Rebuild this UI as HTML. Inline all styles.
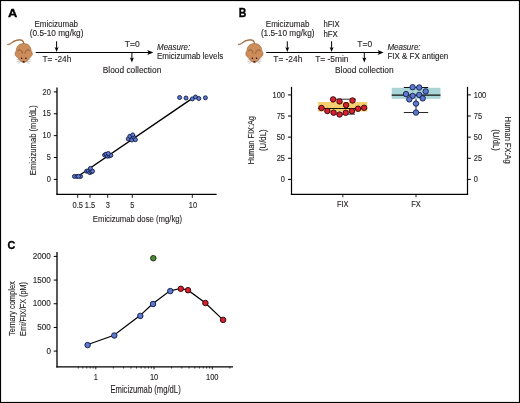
<!DOCTYPE html>
<html><head><meta charset="utf-8"><style>
html,body{margin:0;padding:0;background:#fff;}
svg{display:block;font-family:"Liberation Sans", sans-serif;will-change:transform;} text{stroke:#231f20;stroke-width:0.12px;}
</style></head><body>
<svg width="520" height="403" viewBox="0 0 520 403">
<rect x="0" y="0" width="520" height="403" fill="none" stroke="#000" stroke-width="2.2"/>
<g transform="translate(0,0)">
<path d="M7.9,44.5 C10.5,44.8 12.4,41.6 15.4,40.6 C18.4,39.6 21.2,39.4 22.8,41 C23.5,41.8 23.8,42.8 23.9,44" fill="none" stroke="#8a5a34" stroke-width="1.15" stroke-linecap="round"/>
<path d="M7.9,44.5 C10.5,44.8 12.4,41.6 15.4,40.6 C18.4,39.6 21.2,39.4 22.8,41 C23.5,41.8 23.8,42.8 23.9,44" fill="none" stroke="#cf915c" stroke-width="0.45" stroke-linecap="round"/>
<path d="M8.3,44.2 L7.4,45.3 L9.2,44.9 Z" fill="#a87448"/>
<path d="M21.2,60.6 L17.2,59.4 M21.2,61 L17,61.6 M21.4,61.4 L18.2,63.4 M26.2,60.6 L30.2,59.4 M26.2,61 L30.4,61.6 M26,61.4 L29.2,63.4" stroke="#a8a8a8" stroke-width="0.7" stroke-linecap="round"/>
<path d="M21.2,60.6 L17.2,59.4 M21.2,61 L17,61.6 M21.4,61.4 L18.2,63.4 M26.2,60.6 L30.2,59.4 M26.2,61 L30.4,61.6 M26,61.4 L29.2,63.4" stroke="#f4f4f4" stroke-width="0.3" stroke-linecap="round"/>
<path d="M23.7,43.5 C28.7,43.5 31.1,47 31.1,50.8 C32.8,52.4 32.8,55.9 30.3,57.1 C28.3,59.6 26,62.6 23.7,62.7 C21.4,62.6 19.1,59.6 17.1,57.1 C14.6,55.9 14.6,52.4 16.3,50.8 C16.3,47 18.7,43.5 23.7,43.5 Z" fill="#cd8d5a" stroke="#8f5c35" stroke-width="0.55"/>
<path d="M17.4,51 C19.6,49 21.9,49.8 22.5,53.6 M30,51 C27.8,49 25.5,49.8 24.9,53.6" fill="none" stroke="#6e4222" stroke-width="0.65"/>
<circle cx="21.6" cy="58.2" r="0.8" fill="#1a0c06"/><circle cx="25.9" cy="58.2" r="0.8" fill="#1a0c06"/>
<ellipse cx="23.7" cy="61.8" rx="1.15" ry="0.75" fill="#2e1608"/>
</g>
<g transform="translate(230.7,0)">
<path d="M7.9,44.5 C10.5,44.8 12.4,41.6 15.4,40.6 C18.4,39.6 21.2,39.4 22.8,41 C23.5,41.8 23.8,42.8 23.9,44" fill="none" stroke="#8a5a34" stroke-width="1.15" stroke-linecap="round"/>
<path d="M7.9,44.5 C10.5,44.8 12.4,41.6 15.4,40.6 C18.4,39.6 21.2,39.4 22.8,41 C23.5,41.8 23.8,42.8 23.9,44" fill="none" stroke="#cf915c" stroke-width="0.45" stroke-linecap="round"/>
<path d="M8.3,44.2 L7.4,45.3 L9.2,44.9 Z" fill="#a87448"/>
<path d="M21.2,60.6 L17.2,59.4 M21.2,61 L17,61.6 M21.4,61.4 L18.2,63.4 M26.2,60.6 L30.2,59.4 M26.2,61 L30.4,61.6 M26,61.4 L29.2,63.4" stroke="#a8a8a8" stroke-width="0.7" stroke-linecap="round"/>
<path d="M21.2,60.6 L17.2,59.4 M21.2,61 L17,61.6 M21.4,61.4 L18.2,63.4 M26.2,60.6 L30.2,59.4 M26.2,61 L30.4,61.6 M26,61.4 L29.2,63.4" stroke="#f4f4f4" stroke-width="0.3" stroke-linecap="round"/>
<path d="M23.7,43.5 C28.7,43.5 31.1,47 31.1,50.8 C32.8,52.4 32.8,55.9 30.3,57.1 C28.3,59.6 26,62.6 23.7,62.7 C21.4,62.6 19.1,59.6 17.1,57.1 C14.6,55.9 14.6,52.4 16.3,50.8 C16.3,47 18.7,43.5 23.7,43.5 Z" fill="#cd8d5a" stroke="#8f5c35" stroke-width="0.55"/>
<path d="M17.4,51 C19.6,49 21.9,49.8 22.5,53.6 M30,51 C27.8,49 25.5,49.8 24.9,53.6" fill="none" stroke="#6e4222" stroke-width="0.65"/>
<circle cx="21.6" cy="58.2" r="0.8" fill="#1a0c06"/><circle cx="25.9" cy="58.2" r="0.8" fill="#1a0c06"/>
<ellipse cx="23.7" cy="61.8" rx="1.15" ry="0.75" fill="#2e1608"/>
</g>
<text x="8.1" y="16.9" font-size="11.8" font-weight="bold" textLength="9.3" lengthAdjust="spacingAndGlyphs" fill="#000" style="stroke:#000;stroke-width:0.35px">A</text>
<text x="56.3" y="27" font-size="8.6" text-anchor="middle" textLength="43.56" lengthAdjust="spacingAndGlyphs" fill="#231f20">Emicizumab</text>
<text x="56.6" y="36.4" font-size="8.5" text-anchor="middle" textLength="53.62" lengthAdjust="spacingAndGlyphs" fill="#231f20">(0.5-10 mg/kg)</text>
<line x1="56.6" y1="41.3" x2="56.6" y2="49" stroke="#000" stroke-width="1.0"/>
<path d="M54.6,47 L56.6,52 L58.6,47 L56.6,48.2 Z" fill="#000"/>
<line x1="35.7" y1="52.5" x2="149.3" y2="52.5" stroke="#000" stroke-width="1.2"/>
<path d="M147.3,49.9 L153.3,52.5 L147.3,55.1 L148.70000000000002,52.5 Z" fill="#000"/>
<text x="42.4" y="61.7" font-size="8.35" fill="#231f20">T= -24h</text>
<text x="124.8" y="47.1" font-size="8.5" fill="#231f20">T=0</text>
<line x1="131.9" y1="52.3" x2="131.9" y2="59.4" stroke="#000" stroke-width="1.0"/>
<path d="M129.9,57.4 L131.9,62.4 L133.9,57.4 L131.9,58.6 Z" fill="#000"/>
<text x="102.7" y="72.7" font-size="8.5" textLength="58.6" lengthAdjust="spacingAndGlyphs" fill="#231f20">Blood collection</text>
<text x="157" y="50" font-size="8.4" font-style="italic" textLength="33.2" lengthAdjust="spacingAndGlyphs" fill="#231f20">Measure:</text>
<text x="157" y="59.4" font-size="8.5" textLength="66.24" lengthAdjust="spacingAndGlyphs" fill="#231f20">Emicizumab levels</text>
<text x="238.7" y="16.8" font-size="12" font-weight="bold" textLength="7.6" lengthAdjust="spacingAndGlyphs" fill="#000" style="stroke:#000;stroke-width:0.35px">B</text>
<text x="287.6" y="27" font-size="8.6" text-anchor="middle" textLength="43.56" lengthAdjust="spacingAndGlyphs" fill="#231f20">Emicizumab</text>
<text x="287.7" y="36.4" font-size="8.5" text-anchor="middle" textLength="53.62" lengthAdjust="spacingAndGlyphs" fill="#231f20">(1.5-10 mg/kg)</text>
<line x1="287.3" y1="41.3" x2="287.3" y2="49" stroke="#000" stroke-width="1.0"/>
<path d="M285.3,47 L287.3,52 L289.3,47 L287.3,48.2 Z" fill="#000"/>
<text x="323.4" y="26.7" font-size="8.4" textLength="16.2" lengthAdjust="spacingAndGlyphs" fill="#231f20">hFIX</text>
<text x="323.4" y="36.5" font-size="8.4" textLength="14.4" lengthAdjust="spacingAndGlyphs" fill="#231f20">hFX</text>
<line x1="331.6" y1="41.3" x2="331.6" y2="49" stroke="#000" stroke-width="1.0"/>
<path d="M329.6,47 L331.6,52 L333.6,47 L331.6,48.2 Z" fill="#000"/>
<line x1="266.2" y1="52.5" x2="379.6" y2="52.5" stroke="#000" stroke-width="1.2"/>
<path d="M377.6,49.9 L383.6,52.5 L377.6,55.1 L379.0,52.5 Z" fill="#000"/>
<text x="273.3" y="61.7" font-size="8.35" fill="#231f20">T= -24h</text>
<text x="315.2" y="61.7" font-size="8.4" fill="#231f20">T= -5min</text>
<text x="357.3" y="47.1" font-size="8.5" fill="#231f20">T=0</text>
<line x1="364.3" y1="52.3" x2="364.3" y2="59.4" stroke="#000" stroke-width="1.0"/>
<path d="M362.3,57.4 L364.3,62.4 L366.3,57.4 L364.3,58.6 Z" fill="#000"/>
<text x="335" y="72.7" font-size="8.5" textLength="58.6" lengthAdjust="spacingAndGlyphs" fill="#231f20">Blood collection</text>
<text x="387.4" y="50" font-size="8.4" font-style="italic" textLength="33.2" lengthAdjust="spacingAndGlyphs" fill="#231f20">Measure:</text>
<text x="387.4" y="59.4" font-size="8.5" textLength="60.91" lengthAdjust="spacingAndGlyphs" fill="#231f20">FIX &amp; FX antigen</text>
<line x1="57.0" y1="87.6" x2="57.0" y2="194.8" stroke="#000" stroke-width="1.3"/>
<line x1="56.4" y1="194.3" x2="216.6" y2="194.3" stroke="#000" stroke-width="1.2"/>
<line x1="53.8" y1="179.4" x2="57.0" y2="179.4" stroke="#000" stroke-width="1.0"/>
<text x="50.8" y="182.1" font-size="8.3" text-anchor="end" textLength="4.15" lengthAdjust="spacingAndGlyphs" fill="#231f20">0</text>
<line x1="53.8" y1="157.525" x2="57.0" y2="157.525" stroke="#000" stroke-width="1.0"/>
<text x="50.8" y="160.22" font-size="8.3" text-anchor="end" textLength="4.15" lengthAdjust="spacingAndGlyphs" fill="#231f20">5</text>
<line x1="53.8" y1="135.65" x2="57.0" y2="135.65" stroke="#000" stroke-width="1.0"/>
<text x="50.8" y="138.35" font-size="8.3" text-anchor="end" textLength="8.31" lengthAdjust="spacingAndGlyphs" fill="#231f20">10</text>
<line x1="53.8" y1="113.775" x2="57.0" y2="113.775" stroke="#000" stroke-width="1.0"/>
<text x="50.8" y="116.48" font-size="8.3" text-anchor="end" textLength="8.31" lengthAdjust="spacingAndGlyphs" fill="#231f20">15</text>
<line x1="53.8" y1="91.9" x2="57.0" y2="91.9" stroke="#000" stroke-width="1.0"/>
<text x="50.8" y="94.6" font-size="8.3" text-anchor="end" textLength="8.31" lengthAdjust="spacingAndGlyphs" fill="#231f20">20</text>
<line x1="77.7" y1="194.3" x2="77.7" y2="197.8" stroke="#000" stroke-width="0.9"/>
<text x="77.7" y="207.8" font-size="8.3" text-anchor="middle" textLength="10.38" lengthAdjust="spacingAndGlyphs" fill="#231f20">0.5</text>
<line x1="90" y1="194.3" x2="90" y2="197.8" stroke="#000" stroke-width="0.9"/>
<text x="90" y="207.8" font-size="8.3" text-anchor="middle" textLength="10.38" lengthAdjust="spacingAndGlyphs" fill="#231f20">1.5</text>
<line x1="107.7" y1="194.3" x2="107.7" y2="197.8" stroke="#000" stroke-width="0.9"/>
<text x="107.7" y="207.8" font-size="8.3" text-anchor="middle" textLength="4.15" lengthAdjust="spacingAndGlyphs" fill="#231f20">3</text>
<line x1="132.3" y1="194.3" x2="132.3" y2="197.8" stroke="#000" stroke-width="0.9"/>
<text x="132.3" y="207.8" font-size="8.3" text-anchor="middle" textLength="4.15" lengthAdjust="spacingAndGlyphs" fill="#231f20">5</text>
<line x1="192.3" y1="194.3" x2="192.3" y2="197.8" stroke="#000" stroke-width="0.9"/>
<text x="192.9" y="207.8" font-size="8.3" text-anchor="middle" textLength="8.31" lengthAdjust="spacingAndGlyphs" fill="#231f20">10</text>
<text x="92.8" y="221.9" font-size="9.6" textLength="89.4" lengthAdjust="spacingAndGlyphs" fill="#231f20">Emicizumab dose (mg/kg)</text>
<text x="0" y="0" font-size="9.6" text-anchor="middle" textLength="70" lengthAdjust="spacingAndGlyphs" fill="#231f20" transform="translate(36.2,140.2) rotate(-90)">Emicizumab (mg/dL)</text>
<line x1="78.5" y1="176.0" x2="192.3" y2="98.3" stroke="#000" stroke-width="1.45"/>
<circle cx="74.4" cy="176.4" r="2.0" fill="#5b79d0" stroke="#141c44" stroke-width="0.9"/>
<circle cx="80.6" cy="176.4" r="2.0" fill="#5b79d0" stroke="#141c44" stroke-width="0.9"/>
<circle cx="76.9" cy="176.4" r="2.0" fill="#5b79d0" stroke="#141c44" stroke-width="0.9"/>
<circle cx="78.5" cy="176.4" r="2.0" fill="#5b79d0" stroke="#141c44" stroke-width="0.9"/>
<circle cx="86.6" cy="171.2" r="2.0" fill="#5b79d0" stroke="#141c44" stroke-width="0.9"/>
<circle cx="88.2" cy="171.0" r="2.0" fill="#5b79d0" stroke="#141c44" stroke-width="0.9"/>
<circle cx="89.8" cy="172.6" r="2.0" fill="#5b79d0" stroke="#141c44" stroke-width="0.9"/>
<circle cx="91.5" cy="171.8" r="2.0" fill="#5b79d0" stroke="#141c44" stroke-width="0.9"/>
<circle cx="92.5" cy="171.2" r="2.0" fill="#5b79d0" stroke="#141c44" stroke-width="0.9"/>
<circle cx="90.4" cy="168.4" r="2.0" fill="#5b79d0" stroke="#141c44" stroke-width="0.9"/>
<circle cx="104.6" cy="155.0" r="2.0" fill="#5b79d0" stroke="#141c44" stroke-width="0.9"/>
<circle cx="106.0" cy="154.2" r="2.0" fill="#5b79d0" stroke="#141c44" stroke-width="0.9"/>
<circle cx="107.6" cy="156.3" r="2.0" fill="#5b79d0" stroke="#141c44" stroke-width="0.9"/>
<circle cx="109.6" cy="155.8" r="2.0" fill="#5b79d0" stroke="#141c44" stroke-width="0.9"/>
<circle cx="110.9" cy="155.3" r="2.0" fill="#5b79d0" stroke="#141c44" stroke-width="0.9"/>
<circle cx="108.3" cy="153.5" r="2.0" fill="#5b79d0" stroke="#141c44" stroke-width="0.9"/>
<circle cx="128.25" cy="138.9" r="2.0" fill="#5b79d0" stroke="#141c44" stroke-width="0.9"/>
<circle cx="129.8" cy="136.3" r="2.0" fill="#5b79d0" stroke="#141c44" stroke-width="0.9"/>
<circle cx="131.8" cy="140" r="2.0" fill="#5b79d0" stroke="#141c44" stroke-width="0.9"/>
<circle cx="134" cy="137.4" r="2.0" fill="#5b79d0" stroke="#141c44" stroke-width="0.9"/>
<circle cx="135.4" cy="139.7" r="2.0" fill="#5b79d0" stroke="#141c44" stroke-width="0.9"/>
<circle cx="132.7" cy="134.9" r="2.0" fill="#5b79d0" stroke="#141c44" stroke-width="0.9"/>
<circle cx="179.6" cy="97.5" r="2.0" fill="#5b79d0" stroke="#141c44" stroke-width="0.9"/>
<circle cx="186" cy="98" r="2.0" fill="#5b79d0" stroke="#141c44" stroke-width="0.9"/>
<circle cx="192.3" cy="98.9" r="2.0" fill="#5b79d0" stroke="#141c44" stroke-width="0.9"/>
<circle cx="195.5" cy="97" r="2.0" fill="#5b79d0" stroke="#141c44" stroke-width="0.9"/>
<circle cx="198.8" cy="98.5" r="2.0" fill="#5b79d0" stroke="#141c44" stroke-width="0.9"/>
<circle cx="205.4" cy="97.8" r="2.0" fill="#5b79d0" stroke="#141c44" stroke-width="0.9"/>
<line x1="291.5" y1="86.8" x2="291.5" y2="194.9" stroke="#000" stroke-width="1.2"/>
<line x1="467.5" y1="86.8" x2="467.5" y2="194.9" stroke="#000" stroke-width="1.2"/>
<line x1="290.9" y1="194.35" x2="468.1" y2="194.35" stroke="#000" stroke-width="1.2"/>
<line x1="288.0" y1="179.4" x2="291.5" y2="179.4" stroke="#000" stroke-width="1.0"/>
<line x1="467.5" y1="179.4" x2="470.8" y2="179.4" stroke="#000" stroke-width="1.0"/>
<text x="285" y="182.15" font-size="8.3" text-anchor="end" textLength="4.15" lengthAdjust="spacingAndGlyphs" fill="#231f20">0</text>
<text x="473.8" y="182.15" font-size="8.3" textLength="4.15" lengthAdjust="spacingAndGlyphs" fill="#231f20">0</text>
<line x1="288.0" y1="158.275" x2="291.5" y2="158.275" stroke="#000" stroke-width="1.0"/>
<line x1="467.5" y1="158.275" x2="470.8" y2="158.275" stroke="#000" stroke-width="1.0"/>
<text x="285" y="161.03" font-size="8.3" text-anchor="end" textLength="8.31" lengthAdjust="spacingAndGlyphs" fill="#231f20">25</text>
<text x="473.8" y="161.03" font-size="8.3" textLength="8.31" lengthAdjust="spacingAndGlyphs" fill="#231f20">25</text>
<line x1="288.0" y1="137.15" x2="291.5" y2="137.15" stroke="#000" stroke-width="1.0"/>
<line x1="467.5" y1="137.15" x2="470.8" y2="137.15" stroke="#000" stroke-width="1.0"/>
<text x="285" y="139.9" font-size="8.3" text-anchor="end" textLength="8.31" lengthAdjust="spacingAndGlyphs" fill="#231f20">50</text>
<text x="473.8" y="139.9" font-size="8.3" textLength="8.31" lengthAdjust="spacingAndGlyphs" fill="#231f20">50</text>
<line x1="288.0" y1="116.025" x2="291.5" y2="116.025" stroke="#000" stroke-width="1.0"/>
<line x1="467.5" y1="116.025" x2="470.8" y2="116.025" stroke="#000" stroke-width="1.0"/>
<text x="285" y="118.78" font-size="8.3" text-anchor="end" textLength="8.31" lengthAdjust="spacingAndGlyphs" fill="#231f20">75</text>
<text x="473.8" y="118.78" font-size="8.3" textLength="8.31" lengthAdjust="spacingAndGlyphs" fill="#231f20">75</text>
<line x1="288.0" y1="94.9" x2="291.5" y2="94.9" stroke="#000" stroke-width="1.0"/>
<line x1="467.5" y1="94.9" x2="470.8" y2="94.9" stroke="#000" stroke-width="1.0"/>
<text x="285" y="97.65" font-size="8.3" text-anchor="end" textLength="12.46" lengthAdjust="spacingAndGlyphs" fill="#231f20">100</text>
<text x="473.8" y="97.65" font-size="8.3" textLength="12.46" lengthAdjust="spacingAndGlyphs" fill="#231f20">100</text>
<line x1="342.8" y1="194.3" x2="342.8" y2="197.2" stroke="#000" stroke-width="0.9"/>
<text x="342.8" y="207.2" font-size="8.3" text-anchor="middle" textLength="11.62" lengthAdjust="spacingAndGlyphs" fill="#231f20">FIX</text>
<line x1="416" y1="194.3" x2="416" y2="197.2" stroke="#000" stroke-width="0.9"/>
<text x="416" y="207.2" font-size="8.3" text-anchor="middle" textLength="9.55" lengthAdjust="spacingAndGlyphs" fill="#231f20">FX</text>
<text font-size="9.5" text-anchor="middle" fill="#231f20" transform="translate(254.2,140.2) rotate(-90)"><tspan x="0" y="0" textLength="48.3" lengthAdjust="spacingAndGlyphs">Human FIX:Ag</tspan></text>
<text font-size="9.5" text-anchor="middle" fill="#231f20" transform="translate(265.5,140.2) rotate(-90)"><tspan x="0" y="0" textLength="21.7" lengthAdjust="spacingAndGlyphs">(U/dL)</tspan></text>
<text font-size="9.5" text-anchor="middle" fill="#231f20" transform="translate(504.8,140.2) rotate(90)"><tspan x="0" y="0" textLength="46.9" lengthAdjust="spacingAndGlyphs">Human FX:Ag</tspan></text>
<text font-size="9.5" text-anchor="middle" fill="#231f20" transform="translate(493,140.1) rotate(90)"><tspan x="0" y="0" textLength="21.6" lengthAdjust="spacingAndGlyphs">(U/dL)</tspan></text>
<rect x="318.1" y="102" width="49.1" height="9.5" fill="#f6d06e"/>
<line x1="318.1" y1="108.5" x2="367.2" y2="108.5" stroke="#111" stroke-width="1.1"/>
<line x1="336" y1="99.2" x2="356" y2="99.2" stroke="#1a1a1a" stroke-width="0.9"/>
<line x1="336" y1="114.1" x2="355" y2="114.1" stroke="#1a1a1a" stroke-width="0.9"/>
<circle cx="321.5" cy="108.0" r="2.75" fill="#d8202e" stroke="#2e0608" stroke-width="0.9"/>
<circle cx="327.4" cy="111.0" r="2.75" fill="#d8202e" stroke="#2e0608" stroke-width="0.9"/>
<circle cx="333.1" cy="99.4" r="2.75" fill="#d8202e" stroke="#2e0608" stroke-width="0.9"/>
<circle cx="333.6" cy="112.7" r="2.75" fill="#d8202e" stroke="#2e0608" stroke-width="0.9"/>
<circle cx="339.5" cy="101.4" r="2.75" fill="#d8202e" stroke="#2e0608" stroke-width="0.9"/>
<circle cx="339.6" cy="114.5" r="2.75" fill="#d8202e" stroke="#2e0608" stroke-width="0.9"/>
<circle cx="346.1" cy="105.10000000000001" r="2.75" fill="#d8202e" stroke="#2e0608" stroke-width="0.9"/>
<circle cx="345.7" cy="112.8" r="2.75" fill="#d8202e" stroke="#2e0608" stroke-width="0.9"/>
<circle cx="352.5" cy="100.5" r="2.75" fill="#d8202e" stroke="#2e0608" stroke-width="0.9"/>
<circle cx="351.9" cy="111.10000000000001" r="2.75" fill="#d8202e" stroke="#2e0608" stroke-width="0.9"/>
<circle cx="358" cy="108.7" r="2.75" fill="#d8202e" stroke="#2e0608" stroke-width="0.9"/>
<circle cx="364.1" cy="107.8" r="2.75" fill="#d8202e" stroke="#2e0608" stroke-width="0.9"/>
<rect x="391.7" y="87.8" width="48.8" height="11" fill="#a9d5d7"/>
<line x1="391.7" y1="95.1" x2="440.5" y2="95.1" stroke="#111" stroke-width="1.3"/>
<line x1="403.8" y1="87.5" x2="428.2" y2="87.5" stroke="#151515" stroke-width="1.0"/>
<line x1="403.8" y1="112.5" x2="428.2" y2="112.5" stroke="#2a2a2a" stroke-width="1.0"/>
<line x1="416" y1="98.8" x2="416" y2="112.5" stroke="#2a2a2a" stroke-width="1.0"/>
<circle cx="412.6" cy="87.2" r="2.72" fill="#5b79d0" stroke="#141c44" stroke-width="0.9"/>
<circle cx="419.2" cy="87.5" r="2.72" fill="#5b79d0" stroke="#141c44" stroke-width="0.9"/>
<circle cx="425.7" cy="91.4" r="2.72" fill="#5b79d0" stroke="#141c44" stroke-width="0.9"/>
<circle cx="406" cy="94.1" r="2.72" fill="#5b79d0" stroke="#141c44" stroke-width="0.9"/>
<circle cx="412.6" cy="95.9" r="2.72" fill="#5b79d0" stroke="#141c44" stroke-width="0.9"/>
<circle cx="419.2" cy="94.9" r="2.72" fill="#5b79d0" stroke="#141c44" stroke-width="0.9"/>
<circle cx="409.3" cy="99.4" r="2.72" fill="#5b79d0" stroke="#141c44" stroke-width="0.9"/>
<circle cx="422.7" cy="98.4" r="2.72" fill="#5b79d0" stroke="#141c44" stroke-width="0.9"/>
<circle cx="416" cy="103.6" r="2.72" fill="#5b79d0" stroke="#141c44" stroke-width="0.9"/>
<circle cx="416" cy="112.6" r="2.72" fill="#5b79d0" stroke="#141c44" stroke-width="0.9"/>
<text x="7.4" y="248.9" font-size="11.6" font-weight="bold" textLength="7.8" lengthAdjust="spacingAndGlyphs" fill="#000" style="stroke:#000;stroke-width:0.35px">C</text>
<line x1="57.0" y1="252" x2="57.0" y2="367.5" stroke="#000" stroke-width="1.3"/>
<line x1="56.4" y1="366.9" x2="233" y2="366.9" stroke="#000" stroke-width="1.3"/>
<line x1="53.7" y1="351.1" x2="57.0" y2="351.1" stroke="#000" stroke-width="1.0"/>
<text x="50.9" y="353.6" font-size="8.3" text-anchor="end" textLength="4.52" lengthAdjust="spacingAndGlyphs" fill="#231f20">0</text>
<line x1="53.7" y1="327.425" x2="57.0" y2="327.425" stroke="#000" stroke-width="1.0"/>
<text x="50.9" y="329.93" font-size="8.3" text-anchor="end" textLength="13.57" lengthAdjust="spacingAndGlyphs" fill="#231f20">500</text>
<line x1="53.7" y1="303.75" x2="57.0" y2="303.75" stroke="#000" stroke-width="1.0"/>
<text x="50.9" y="306.25" font-size="8.3" text-anchor="end" textLength="18.09" lengthAdjust="spacingAndGlyphs" fill="#231f20">1000</text>
<line x1="53.7" y1="280.07500000000005" x2="57.0" y2="280.07500000000005" stroke="#000" stroke-width="1.0"/>
<text x="50.9" y="282.58" font-size="8.3" text-anchor="end" textLength="18.09" lengthAdjust="spacingAndGlyphs" fill="#231f20">1500</text>
<line x1="53.7" y1="256.40000000000003" x2="57.0" y2="256.40000000000003" stroke="#000" stroke-width="1.0"/>
<text x="50.9" y="258.9" font-size="8.3" text-anchor="end" textLength="18.09" lengthAdjust="spacingAndGlyphs" fill="#231f20">2000</text>
<line x1="78.2650027525731" y1="366.8" x2="78.2650027525731" y2="368.6" stroke="#000" stroke-width="0.7"/>
<line x1="82.87731033484724" y1="366.8" x2="82.87731033484724" y2="368.6" stroke="#000" stroke-width="0.7"/>
<line x1="86.77696083083046" y1="366.8" x2="86.77696083083046" y2="368.6" stroke="#000" stroke-width="0.7"/>
<line x1="90.15499174228071" y1="366.8" x2="90.15499174228071" y2="368.6" stroke="#000" stroke-width="0.7"/>
<line x1="93.13462617484068" y1="366.8" x2="93.13462617484068" y2="368.6" stroke="#000" stroke-width="0.7"/>
<line x1="95.8" y1="366.8" x2="95.8" y2="369.4" stroke="#000" stroke-width="0.9"/>
<line x1="113.3349972474269" y1="366.8" x2="113.3349972474269" y2="368.6" stroke="#000" stroke-width="0.7"/>
<line x1="123.59231308742034" y1="366.8" x2="123.59231308742034" y2="368.6" stroke="#000" stroke-width="0.7"/>
<line x1="130.8699944948538" y1="366.8" x2="130.8699944948538" y2="368.6" stroke="#000" stroke-width="0.7"/>
<line x1="136.51500275257308" y1="366.8" x2="136.51500275257308" y2="368.6" stroke="#000" stroke-width="0.7"/>
<line x1="141.12731033484724" y1="366.8" x2="141.12731033484724" y2="368.6" stroke="#000" stroke-width="0.7"/>
<line x1="145.02696083083046" y1="366.8" x2="145.02696083083046" y2="368.6" stroke="#000" stroke-width="0.7"/>
<line x1="148.4049917422807" y1="366.8" x2="148.4049917422807" y2="368.6" stroke="#000" stroke-width="0.7"/>
<line x1="151.38462617484066" y1="366.8" x2="151.38462617484066" y2="368.6" stroke="#000" stroke-width="0.7"/>
<line x1="154.05" y1="366.8" x2="154.05" y2="369.4" stroke="#000" stroke-width="0.9"/>
<line x1="171.58499724742688" y1="366.8" x2="171.58499724742688" y2="368.6" stroke="#000" stroke-width="0.7"/>
<line x1="181.84231308742034" y1="366.8" x2="181.84231308742034" y2="368.6" stroke="#000" stroke-width="0.7"/>
<line x1="189.1199944948538" y1="366.8" x2="189.1199944948538" y2="368.6" stroke="#000" stroke-width="0.7"/>
<line x1="194.76500275257308" y1="366.8" x2="194.76500275257308" y2="368.6" stroke="#000" stroke-width="0.7"/>
<line x1="199.37731033484724" y1="366.8" x2="199.37731033484724" y2="368.6" stroke="#000" stroke-width="0.7"/>
<line x1="203.27696083083046" y1="366.8" x2="203.27696083083046" y2="368.6" stroke="#000" stroke-width="0.7"/>
<line x1="206.6549917422807" y1="366.8" x2="206.6549917422807" y2="368.6" stroke="#000" stroke-width="0.7"/>
<line x1="209.63462617484066" y1="366.8" x2="209.63462617484066" y2="368.6" stroke="#000" stroke-width="0.7"/>
<line x1="212.3" y1="366.8" x2="212.3" y2="369.4" stroke="#000" stroke-width="0.9"/>
<line x1="229.83499724742688" y1="366.8" x2="229.83499724742688" y2="368.6" stroke="#000" stroke-width="0.7"/>
<text x="95.8" y="379.8" font-size="8.3" text-anchor="middle" textLength="4.15" lengthAdjust="spacingAndGlyphs" fill="#231f20">1</text>
<text x="154.05" y="379.8" font-size="8.3" text-anchor="middle" textLength="8.31" lengthAdjust="spacingAndGlyphs" fill="#231f20">10</text>
<text x="212.3" y="379.8" font-size="8.3" text-anchor="middle" textLength="12.46" lengthAdjust="spacingAndGlyphs" fill="#231f20">100</text>
<text x="110.4" y="393.2" font-size="10" textLength="70.3" lengthAdjust="spacingAndGlyphs" fill="#231f20">Emicizumab (mg/dL)</text>
<text font-size="9.7" text-anchor="middle" fill="#231f20" transform="translate(14.9,308.6) rotate(-90)"><tspan x="0" y="0" textLength="54.8" lengthAdjust="spacingAndGlyphs">Ternary complex</tspan></text>
<text font-size="9.7" text-anchor="middle" fill="#231f20" transform="translate(26.3,309) rotate(-90)"><tspan x="0" y="0" textLength="53.9" lengthAdjust="spacingAndGlyphs">Emi/FIX/FX (pM)</tspan></text>
<polyline points="87.3,344.8 114,335.2 140,315.6 152.7,303.7 170,290.8 180.5,288.5 187.7,289.9 205.1,302.7 222.8,319.6" fill="none" stroke="#000" stroke-width="1.2"/>
<circle cx="87.6" cy="345.1" r="2.75" fill="#5b79d0" stroke="#141c44" stroke-width="0.95"/>
<circle cx="114.3" cy="335.5" r="2.75" fill="#5b79d0" stroke="#141c44" stroke-width="0.95"/>
<circle cx="140.3" cy="315.90000000000003" r="2.75" fill="#5b79d0" stroke="#141c44" stroke-width="0.95"/>
<circle cx="153.0" cy="304.0" r="2.75" fill="#5b79d0" stroke="#141c44" stroke-width="0.95"/>
<circle cx="170.3" cy="291.1" r="2.75" fill="#5b79d0" stroke="#141c44" stroke-width="0.95"/>
<circle cx="180.8" cy="288.8" r="2.75" fill="#d8202e" stroke="#2e0608" stroke-width="0.95"/>
<circle cx="188.0" cy="290.2" r="2.75" fill="#d8202e" stroke="#2e0608" stroke-width="0.95"/>
<circle cx="205.4" cy="303.0" r="2.75" fill="#d8202e" stroke="#2e0608" stroke-width="0.95"/>
<circle cx="223.10000000000002" cy="319.90000000000003" r="2.75" fill="#d8202e" stroke="#2e0608" stroke-width="0.95"/>
<circle cx="153.3" cy="258.2" r="2.75" fill="#4a8c34" stroke="#1a2e10" stroke-width="0.95"/>
</svg>
</body></html>
